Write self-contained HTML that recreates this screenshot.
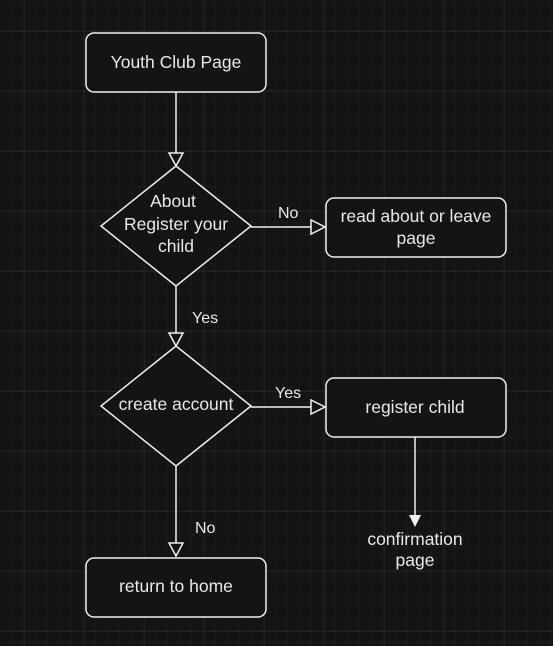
<!DOCTYPE html>
<html><head><style>
html,body{margin:0;padding:0;background:#141414;}
svg{display:block;}
text{font-family:"Liberation Sans",Arial,sans-serif;fill:#e8e8e8;}
</style></head><body>
<svg width="553" height="646" xmlns="http://www.w3.org/2000/svg">
<defs>
<pattern id="minor" width="12" height="12" patternUnits="userSpaceOnUse" x="0" y="7">
<path d="M12 0V12M0 12H12" stroke="#1f1f1f" stroke-width="1" fill="none"/>
</pattern>
<pattern id="major" width="60" height="60" patternUnits="userSpaceOnUse" x="24.5" y="31.5">
<path d="M0 0V60M0 0H60" stroke="#2c2c2c" stroke-width="1" fill="none"/>
</pattern>
</defs>
<rect width="553" height="646" fill="#141414"/>
<rect width="553" height="646" fill="url(#minor)"/>
<rect width="553" height="646" fill="url(#major)"/>
<g stroke="#f0f0f0" stroke-width="1.5" fill="#141414">
<rect x="86" y="33" width="180" height="59" rx="8"/>
<polygon points="176,166 251,226 176,286 101,226"/>
<rect x="326" y="198" width="180" height="59" rx="8"/>
<polygon points="176,346 251,406 176,466 101,406"/>
<rect x="326" y="378" width="180" height="59" rx="8"/>
<rect x="86" y="558" width="180" height="59" rx="8"/>
<line x1="176" y1="92" x2="176" y2="153"/>
<polygon points="169,153 183,153 176,166"/>
<line x1="251" y1="227" x2="311" y2="227"/>
<polygon points="311,220 311,234 325,227"/>
<line x1="176" y1="286" x2="176" y2="333"/>
<polygon points="169,333 183,333 176,346"/>
<line x1="251" y1="407" x2="311" y2="407"/>
<polygon points="311,400 311,414 325,407"/>
<line x1="176" y1="466" x2="176" y2="543"/>
<polygon points="169,543 183,543 176,556"/>
<line x1="415" y1="437" x2="415" y2="516"/>
</g>
<polygon points="409,515 421,515 415,527" fill="#f0f0f0"/>
<g font-size="17.5" text-anchor="middle">
<text x="176" y="68">Youth Club Page</text>
<text x="173" y="207">About</text>
<text x="176" y="230">Register your</text>
<text x="176" y="252">child</text>
<text x="416" y="222">read about or leave</text>
<text x="416" y="244">page</text>
<text x="176" y="410">create account</text>
<text x="415" y="413">register child</text>
<text x="176" y="592">return to home</text>
<text x="415" y="545">confirmation</text>
<text x="415" y="566">page</text>
</g>
<g font-size="16">
<text x="278" y="218">No</text>
<text x="192" y="323">Yes</text>
<text x="275" y="398">Yes</text>
<text x="195" y="533">No</text>
</g>
</svg>
</body></html>
